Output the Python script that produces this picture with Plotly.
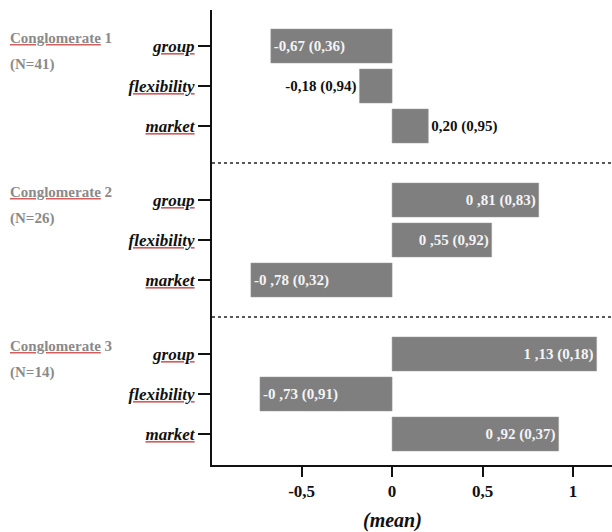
import plotly.graph_objects as go

conglomerates = ["Conglomerate 1", "Conglomerate 2", "Conglomerate 3"]
sample_sizes = ["(N=41)", "(N=26)", "(N=14)"]
items = ["group", "flexibility", "market"]
means = [
    [-0.67, -0.18, 0.20],
    [0.81, 0.55, -0.78],
    [1.13, -0.73, 0.92],
]
sds = [
    [0.36, 0.94, 0.95],
    [0.83, 0.92, 0.32],
    [0.18, 0.91, 0.37],
]
value_labels = [
    ["-0,67 (0,36)", "-0,18 (0,94)", "0,20 (0,95)"],
    ["0 ,81 (0,83)", "0 ,55 (0,92)", "-0 ,78 (0,32)"],
    ["1 ,13 (0,18)", "-0 ,73 (0,91)", "0 ,92 (0,37)"],
]
outside_bars = [(0, 1), (0, 2)]
x_ticks = [-0.5, 0, 0.5, 1]
x_tick_text = ["-0,5", "0", "0,5", "1"]
x_title = "(mean)"

GROUP_STEP = 3.85
SERIF = "Liberation Serif, Times New Roman, serif"


def red_underline(word, color):
    return (f"<span style='text-decoration:underline;color:#d06060'>"
            f"<span style='color:{color}'>{word}</span></span>")


ys, xs, texts, positions, colors, ticktext = [], [], [], [], [], []
for g in range(3):
    for i in range(3):
        ys.append(g * GROUP_STEP + i)
        xs.append(means[g][i])
        texts.append(f"<b>{value_labels[g][i]}</b>")
        outside = (g, i) in outside_bars
        positions.append("outside" if outside else "inside")
        colors.append("#111111" if outside else "#f4f4f4")
        ticktext.append(f"<i><b>{red_underline(items[i], '#111111')}</b></i>")

fig = go.Figure(go.Bar(
    x=xs, y=ys, orientation="h", width=0.85,
    marker=dict(color="#7f7f7f", line=dict(color="#9a9a9a", width=0.5)),
    text=texts, textposition=positions, insidetextanchor="end",
    textfont=dict(family=SERIF, size=15, color=colors),
    constraintext="none", cliponaxis=False, hoverinfo="skip",
))

# dotted separators between conglomerates
for g in range(2):
    ysep = (g * GROUP_STEP + 2 + (g + 1) * GROUP_STEP) / 2
    fig.add_shape(type="line", xref="paper", x0=0, x1=1, yref="y", y0=ysep, y1=ysep,
                  line=dict(color="#222222", width=1.5, dash="dot"))

# conglomerate labels
for g in range(3):
    base = g * GROUP_STEP
    name, num = conglomerates[g].rsplit(" ", 1)
    fig.add_annotation(xref="paper", x=-0.51, yref="y", y=base - 0.2, xanchor="left",
                       yanchor="middle", showarrow=False,
                       text=f"<b>{red_underline(name, '#8a8a8a')} {num}</b>",
                       font=dict(family=SERIF, size=15, color="#8a8a8a"))
    fig.add_annotation(xref="paper", x=-0.51, yref="y", y=base + 0.45, xanchor="left",
                       yanchor="middle", showarrow=False,
                       text=f"<b>{sample_sizes[g]}</b>",
                       font=dict(family=SERIF, size=15, color="#8a8a8a"))

fig.add_annotation(xref="x", x=0, yref="paper", y=-0.121, yanchor="middle", showarrow=False,
                   text=f"<b><i>{x_title}</i></b>", font=dict(family=SERIF, size=20, color="#111111"))

fig.update_xaxes(range=[-0.995, 1.215], tickvals=x_ticks, ticktext=[f"<b>{t}</b>" for t in x_tick_text],
                 showline=True, linecolor="#111111", linewidth=2, ticks="outside",
                 ticklen=10, tickwidth=2, tickcolor="#111111", showgrid=False, zeroline=False,
                 tickfont=dict(family=SERIF, size=17, color="#111111"))
fig.update_yaxes(range=[10.475, -0.9], tickvals=ys, ticktext=ticktext,
                 showline=True, linecolor="#111111", linewidth=2, ticks="outside",
                 ticklen=12, tickwidth=2, tickcolor="#111111", showgrid=False, zeroline=False,
                 tickfont=dict(family=SERIF, size=17, color="#111111"))

fig.update_layout(width=612, height=532, margin=dict(l=212, r=0, t=10, b=67),
                  plot_bgcolor="white", paper_bgcolor="white", showlegend=False)

fig.write_html("out.html", config={"displayModeBar": False},
               post_script="document.body.style.margin='0';")
